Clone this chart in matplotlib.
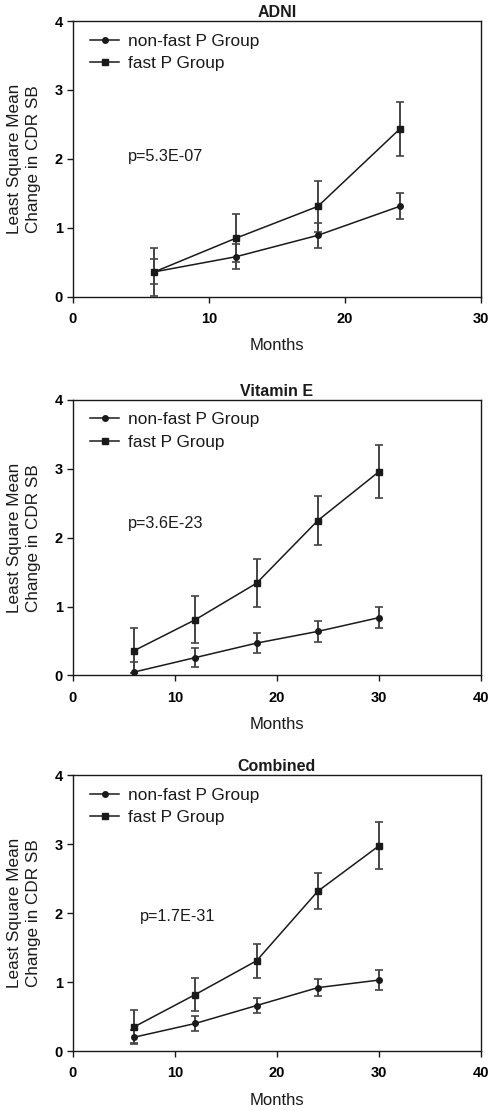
import matplotlib
matplotlib.use("Agg")
import matplotlib.pyplot as plt

# ── Data ──────────────────────────────────────────────────────────────────────

TITLES = ["ADNI", "Vitamin E", "Combined"]
P_TEXTS = ["p=5.3E-07", "p=3.6E-23", "p=1.7E-31"]
X_MAX = [30, 40, 40]

adni_months = [6, 12, 18, 24]
adni_nonfast = [0.36, 0.58, 0.89, 1.31]
adni_nonfast_err = [0.18, 0.18, 0.18, 0.19]
adni_fast = [0.36, 0.85, 1.31, 2.43]
adni_fast_err = [0.35, 0.35, 0.37, 0.39]

vite_months = [6, 12, 18, 24, 30]
vite_nonfast = [0.05, 0.26, 0.47, 0.64, 0.84]
vite_nonfast_err = [0.15, 0.14, 0.145, 0.15, 0.15]
vite_fast = [0.36, 0.81, 1.34, 2.25, 2.96]
vite_fast_err = [0.33, 0.34, 0.35, 0.36, 0.38]

comb_months = [6, 12, 18, 24, 30]
comb_nonfast = [0.20, 0.40, 0.66, 0.92, 1.03]
comb_nonfast_err = [0.10, 0.11, 0.115, 0.12, 0.14]
comb_fast = [0.35, 0.82, 1.31, 2.32, 2.98]
comb_fast_err = [0.24, 0.24, 0.25, 0.265, 0.34]

# ── Style ─────────────────────────────────────────────────────────────────────

FONT = ["Liberation Sans", "DejaVu Sans"]
INK = "#1a1a1a"
ERR_COLOR = "#444444"
PANEL_BOTTOMS = [0.733, 0.392, 0.054]
P_POS = [(0.135, 0.508), (0.135, 0.553), (0.165, 0.489)]

plt.rcParams["font.family"] = FONT

panels = [
    (adni_months, adni_nonfast, adni_nonfast_err, adni_fast, adni_fast_err),
    (vite_months, vite_nonfast, vite_nonfast_err, vite_fast, vite_fast_err),
    (comb_months, comb_nonfast, comb_nonfast_err, comb_fast, comb_fast_err),
]

fig = plt.figure(figsize=(4.92, 11.11), dpi=100)

for i, (months, nf, nf_err, fa, fa_err) in enumerate(panels):
    ax = fig.add_axes([0.148, PANEL_BOTTOMS[i], 0.83, 0.248])

    ax.errorbar(months, nf, yerr=nf_err, color=INK, ecolor=ERR_COLOR,
                elinewidth=1.4, capsize=2.8, capthick=1.2, lw=1.1,
                marker="o", ms=4, label="non-fast P Group", zorder=3)
    ax.errorbar(months, fa, yerr=fa_err, color=INK, ecolor=ERR_COLOR,
                elinewidth=1.4, capsize=2.8, capthick=1.2, lw=1.1,
                marker="s", ms=4, label="fast P Group", zorder=3)

    ax.set_xlim(0, X_MAX[i])
    ax.set_ylim(0, 4)
    ax.set_xticks(range(0, X_MAX[i] + 1, 10))
    ax.set_yticks([0, 1, 2, 3, 4])
    ax.tick_params(direction="out", length=4, width=1, color=INK,
                   labelsize=10.5)
    ax.tick_params(axis="x", pad=7)
    ax.tick_params(axis="y", pad=3)
    for lab in ax.get_xticklabels() + ax.get_yticklabels():
        lab.set_fontweight("bold")
    for sp in ax.spines.values():
        sp.set_color(INK)
        sp.set_linewidth(1.0)

    ax.set_title(TITLES[i], fontsize=11.5, fontweight="bold", pad=3, color=INK)
    ax.set_xlabel("Months", fontsize=12, labelpad=9, color=INK)
    ax.set_ylabel("Least Square Mean\nChange in CDR SB", fontsize=12.3,
                  labelpad=10, color=INK, linespacing=1.3)
    ax.text(P_POS[i][0], P_POS[i][1], P_TEXTS[i], transform=ax.transAxes,
            fontsize=11.7, va="center", ha="left", color=INK)

    handles, labels = ax.get_legend_handles_labels()
    handles = [h[0] for h in handles]
    ax.legend(handles, labels, loc="upper left", bbox_to_anchor=(0.025, 0.98),
              frameon=False, fontsize=12.4, handlelength=1.7, handletextpad=0.5,
              labelspacing=0.42, borderaxespad=0.0, labelcolor=INK)

fig.savefig("out.png", dpi=100)
